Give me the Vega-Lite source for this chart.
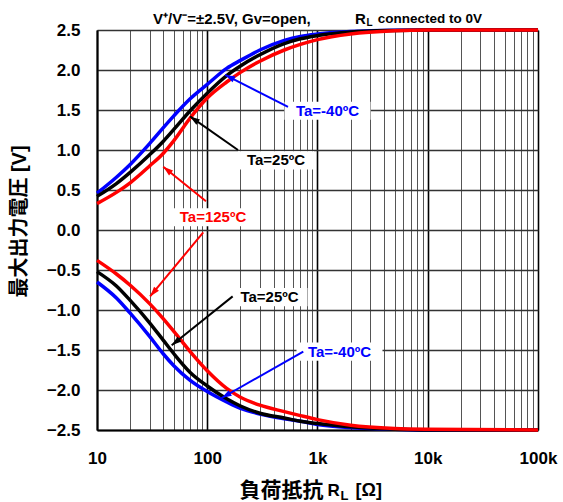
{
  "$schema": "https://vega.github.io/schema/vega-lite/v6.json",
  "width": 441,
  "height": 400,
  "autosize": {"type": "none"},
  "padding": {"left": 97, "top": 30, "right": 25, "bottom": 72},
  "background": "white",
  "config": {
    "font": "Liberation Sans",
    "view": {"stroke": null},
    "axis": {"labelColor": "#000", "titleColor": "#000"}
  },
  "datasets": {
    "curves": [
      {"Ta": "-40", "side": "upper", "R": 10, "V": 0.46},
      {"Ta": "-40", "side": "upper", "R": 15, "V": 0.66},
      {"Ta": "-40", "side": "upper", "R": 20, "V": 0.82},
      {"Ta": "-40", "side": "upper", "R": 30, "V": 1.08},
      {"Ta": "-40", "side": "upper", "R": 40, "V": 1.28},
      {"Ta": "-40", "side": "upper", "R": 50, "V": 1.43},
      {"Ta": "-40", "side": "upper", "R": 70, "V": 1.64},
      {"Ta": "-40", "side": "upper", "R": 100, "V": 1.82},
      {"Ta": "-40", "side": "upper", "R": 150, "V": 2.02},
      {"Ta": "-40", "side": "upper", "R": 200, "V": 2.12},
      {"Ta": "-40", "side": "upper", "R": 300, "V": 2.25},
      {"Ta": "-40", "side": "upper", "R": 500, "V": 2.37},
      {"Ta": "-40", "side": "upper", "R": 700, "V": 2.42},
      {"Ta": "-40", "side": "upper", "R": 1000, "V": 2.45},
      {"Ta": "-40", "side": "upper", "R": 2000, "V": 2.48},
      {"Ta": "-40", "side": "upper", "R": 5000, "V": 2.497},
      {"Ta": "-40", "side": "upper", "R": 10000, "V": 2.5},
      {"Ta": "-40", "side": "upper", "R": 100000, "V": 2.5},
      {"Ta": "-40", "side": "lower", "R": 10, "V": -0.65},
      {"Ta": "-40", "side": "lower", "R": 15, "V": -0.85},
      {"Ta": "-40", "side": "lower", "R": 20, "V": -1.04},
      {"Ta": "-40", "side": "lower", "R": 30, "V": -1.33},
      {"Ta": "-40", "side": "lower", "R": 40, "V": -1.55},
      {"Ta": "-40", "side": "lower", "R": 50, "V": -1.7},
      {"Ta": "-40", "side": "lower", "R": 70, "V": -1.88},
      {"Ta": "-40", "side": "lower", "R": 100, "V": -2.02},
      {"Ta": "-40", "side": "lower", "R": 150, "V": -2.15},
      {"Ta": "-40", "side": "lower", "R": 200, "V": -2.23},
      {"Ta": "-40", "side": "lower", "R": 300, "V": -2.3},
      {"Ta": "-40", "side": "lower", "R": 500, "V": -2.36},
      {"Ta": "-40", "side": "lower", "R": 700, "V": -2.39},
      {"Ta": "-40", "side": "lower", "R": 1000, "V": -2.43},
      {"Ta": "-40", "side": "lower", "R": 2000, "V": -2.47},
      {"Ta": "-40", "side": "lower", "R": 5000, "V": -2.49},
      {"Ta": "-40", "side": "lower", "R": 10000, "V": -2.5},
      {"Ta": "-40", "side": "lower", "R": 100000, "V": -2.5},
      {"Ta": "25", "side": "upper", "R": 10, "V": 0.42},
      {"Ta": "25", "side": "upper", "R": 15, "V": 0.58},
      {"Ta": "25", "side": "upper", "R": 20, "V": 0.72},
      {"Ta": "25", "side": "upper", "R": 30, "V": 0.94},
      {"Ta": "25", "side": "upper", "R": 40, "V": 1.11},
      {"Ta": "25", "side": "upper", "R": 50, "V": 1.26},
      {"Ta": "25", "side": "upper", "R": 70, "V": 1.49},
      {"Ta": "25", "side": "upper", "R": 100, "V": 1.71},
      {"Ta": "25", "side": "upper", "R": 150, "V": 1.93},
      {"Ta": "25", "side": "upper", "R": 200, "V": 2.05},
      {"Ta": "25", "side": "upper", "R": 300, "V": 2.19},
      {"Ta": "25", "side": "upper", "R": 500, "V": 2.33},
      {"Ta": "25", "side": "upper", "R": 700, "V": 2.39},
      {"Ta": "25", "side": "upper", "R": 1000, "V": 2.43},
      {"Ta": "25", "side": "upper", "R": 2000, "V": 2.475},
      {"Ta": "25", "side": "upper", "R": 5000, "V": 2.495},
      {"Ta": "25", "side": "upper", "R": 10000, "V": 2.5},
      {"Ta": "25", "side": "upper", "R": 100000, "V": 2.5},
      {"Ta": "25", "side": "lower", "R": 10, "V": -0.52},
      {"Ta": "25", "side": "lower", "R": 15, "V": -0.7},
      {"Ta": "25", "side": "lower", "R": 20, "V": -0.88},
      {"Ta": "25", "side": "lower", "R": 30, "V": -1.16},
      {"Ta": "25", "side": "lower", "R": 40, "V": -1.38},
      {"Ta": "25", "side": "lower", "R": 50, "V": -1.55},
      {"Ta": "25", "side": "lower", "R": 70, "V": -1.78},
      {"Ta": "25", "side": "lower", "R": 100, "V": -1.95},
      {"Ta": "25", "side": "lower", "R": 150, "V": -2.11},
      {"Ta": "25", "side": "lower", "R": 200, "V": -2.2},
      {"Ta": "25", "side": "lower", "R": 300, "V": -2.29},
      {"Ta": "25", "side": "lower", "R": 500, "V": -2.35},
      {"Ta": "25", "side": "lower", "R": 700, "V": -2.39},
      {"Ta": "25", "side": "lower", "R": 1000, "V": -2.42},
      {"Ta": "25", "side": "lower", "R": 2000, "V": -2.46},
      {"Ta": "25", "side": "lower", "R": 5000, "V": -2.49},
      {"Ta": "25", "side": "lower", "R": 10000, "V": -2.5},
      {"Ta": "25", "side": "lower", "R": 100000, "V": -2.5},
      {"Ta": "125", "side": "upper", "R": 10, "V": 0.33},
      {"Ta": "125", "side": "upper", "R": 15, "V": 0.47},
      {"Ta": "125", "side": "upper", "R": 20, "V": 0.59},
      {"Ta": "125", "side": "upper", "R": 30, "V": 0.8},
      {"Ta": "125", "side": "upper", "R": 40, "V": 0.96},
      {"Ta": "125", "side": "upper", "R": 50, "V": 1.12},
      {"Ta": "125", "side": "upper", "R": 70, "V": 1.4},
      {"Ta": "125", "side": "upper", "R": 100, "V": 1.65},
      {"Ta": "125", "side": "upper", "R": 150, "V": 1.85},
      {"Ta": "125", "side": "upper", "R": 200, "V": 1.97},
      {"Ta": "125", "side": "upper", "R": 300, "V": 2.11},
      {"Ta": "125", "side": "upper", "R": 500, "V": 2.25},
      {"Ta": "125", "side": "upper", "R": 700, "V": 2.32},
      {"Ta": "125", "side": "upper", "R": 1000, "V": 2.38},
      {"Ta": "125", "side": "upper", "R": 2000, "V": 2.45},
      {"Ta": "125", "side": "upper", "R": 5000, "V": 2.49},
      {"Ta": "125", "side": "upper", "R": 10000, "V": 2.5},
      {"Ta": "125", "side": "upper", "R": 100000, "V": 2.5},
      {"Ta": "125", "side": "lower", "R": 10, "V": -0.38},
      {"Ta": "125", "side": "lower", "R": 15, "V": -0.55},
      {"Ta": "125", "side": "lower", "R": 20, "V": -0.69},
      {"Ta": "125", "side": "lower", "R": 30, "V": -0.92},
      {"Ta": "125", "side": "lower", "R": 40, "V": -1.11},
      {"Ta": "125", "side": "lower", "R": 50, "V": -1.27},
      {"Ta": "125", "side": "lower", "R": 70, "V": -1.52},
      {"Ta": "125", "side": "lower", "R": 100, "V": -1.76},
      {"Ta": "125", "side": "lower", "R": 150, "V": -1.98},
      {"Ta": "125", "side": "lower", "R": 200, "V": -2.09},
      {"Ta": "125", "side": "lower", "R": 300, "V": -2.19},
      {"Ta": "125", "side": "lower", "R": 500, "V": -2.27},
      {"Ta": "125", "side": "lower", "R": 700, "V": -2.32},
      {"Ta": "125", "side": "lower", "R": 1000, "V": -2.37},
      {"Ta": "125", "side": "lower", "R": 2000, "V": -2.44},
      {"Ta": "125", "side": "lower", "R": 5000, "V": -2.48},
      {"Ta": "125", "side": "lower", "R": 10000, "V": -2.49},
      {"Ta": "125", "side": "lower", "R": 100000, "V": -2.5}
    ],
    "labels": [
      {"label": "Ta=-40ºC", "Ta": "-40", "R": 1232, "V": 1.49},
      {"label": "Ta=25ºC", "Ta": "25", "R": 420, "V": 0.87},
      {"label": "Ta=125ºC", "Ta": "125", "R": 112.8, "V": 0.16},
      {"label": "Ta=25ºC", "Ta": "25", "R": 367, "V": -0.84},
      {"label": "Ta=-40ºC", "Ta": "-40", "R": 1583, "V": -1.52}
    ],
    "arrows": [
      {"id": "a1", "Ta": "-40", "R": 540, "V": 1.54, "R2": 145, "V2": 1.94},
      {"id": "a2", "Ta": "25", "R": 190, "V": 1.0, "R2": 69.7, "V2": 1.42},
      {"id": "a3", "Ta": "125", "R": 97.4, "V": 0.36, "R2": 39.9, "V2": 0.79},
      {"id": "a4", "Ta": "125", "R": 92, "V": -0.03, "R2": 30.3, "V2": -0.83},
      {"id": "a5", "Ta": "25", "R": 170, "V": -0.83, "R2": 47.6, "V2": -1.44},
      {"id": "a6", "Ta": "-40", "R": 743, "V": -1.52, "R2": 135, "V2": -2.1}
    ]
  },
  "layer": [
    {
      "data": {"name": "curves"},
      "mark": {"type": "line", "strokeWidth": 3.5, "interpolate": "monotone"},
      "encoding": {
        "x": {
          "field": "R", "type": "quantitative", "title": null,
          "scale": {"type": "log", "domain": [10, 100000], "nice": false},
          "axis": {
            "values": [10, 20, 30, 40, 50, 60, 70, 80, 90, 100, 200, 300, 400, 500, 600, 700, 800, 900, 1000, 2000, 3000, 4000, 5000, 6000, 7000, 8000, 9000, 10000, 20000, 30000, 40000, 50000, 60000, 70000, 80000, 90000, 100000],
            "tickCount": 100,
            "labelExpr": "indexof([10,100,1000,10000,100000], datum.value) >= 0 ? (datum.value >= 1000 ? (datum.value / 1000) + 'k' : datum.value + '') : ''",
            "grid": true,
            "gridColor": {"condition": {"test": "indexof([10,100,1000,10000,100000], datum.value) >= 0", "value": "#000000"}, "value": "#555555"},
            "gridWidth": {"condition": {"test": "indexof([10,100,1000,10000,100000], datum.value) >= 0", "value": 1.6}, "value": 1},
            "ticks": false,
            "domainColor": "#000000",
            "domainWidth": 2,
            "labelFontSize": 17,
            "labelFontWeight": "bold",
            "labelPadding": 20,
            "labelOverlap": false,
            "labelFlush": false,
            "labelBound": false
          }
        },
        "y": {
          "field": "V", "type": "quantitative", "title": "最大出力電圧 [V]",
          "scale": {"domain": [-2.5, 2.5], "nice": false, "zero": false},
          "axis": {
            "values": [-2.5, -2, -1.5, -1, -0.5, 0, 0.5, 1, 1.5, 2, 2.5],
            "tickCount": 20,
            "format": ".1f",
            "grid": true,
            "gridColor": "#333333",
            "gridWidth": 1.5,
            "ticks": false,
            "domainColor": "#000000",
            "domainWidth": 2,
            "labelFontSize": 17,
            "labelFontWeight": "bold",
            "labelPadding": 17,
            "labelOverlap": false,
            "labelFlush": false,
            "labelBound": false,
            "titleFont": "Liberation Sans, Noto Sans CJK JP",
            "titleFontSize": 20,
            "titleFontWeight": "bold",
            "titleX": -78,
            "titleY": 191,
            "titleAngle": 270,
            "titleAlign": "center",
            "titleBaseline": "middle"
          }
        },
        "color": {
          "field": "Ta", "type": "nominal", "legend": null,
          "scale": {"domain": ["-40", "25", "125"], "range": ["#0000FF", "#000000", "#FF0000"]}
        },
        "detail": {"field": "side"}
      }
    },
    {
      "data": {"name": "labels"},
      "transform": [{"filter": "datum.Ta != '25'"}],
      "mark": {"type": "point", "filled": true, "fill": "#FFFFFF", "opacity": 1, "strokeWidth": 0, "size": 7396, "shape": "M-1,-0.21L1,-0.21L1,0.21L-1,0.21Z"},
      "encoding": {
        "x": {"field": "R", "type": "quantitative", "title": null},
        "y": {"field": "V", "type": "quantitative", "title": "最大出力電圧 [V]"}
      }
    },
    {
      "data": {"name": "labels"},
      "transform": [{"filter": "datum.Ta == '25'"}],
      "mark": {"type": "point", "filled": true, "fill": "#FFFFFF", "opacity": 1, "strokeWidth": 0, "size": 5776, "shape": "M-1,-0.24L1,-0.24L1,0.24L-1,0.24Z"},
      "encoding": {
        "x": {"field": "R", "type": "quantitative", "title": null},
        "y": {"field": "V", "type": "quantitative", "title": "最大出力電圧 [V]"}
      }
    },
    {
      "data": {"name": "arrows"},
      "mark": {"type": "rule", "strokeWidth": 2},
      "encoding": {
        "x": {"field": "R", "type": "quantitative", "title": null},
        "y": {"field": "V", "type": "quantitative", "title": "最大出力電圧 [V]"},
        "x2": {"field": "R2"},
        "y2": {"field": "V2"},
        "color": {"field": "Ta", "type": "nominal", "legend": null}
      }
    },
    {
      "data": {"name": "arrows"},
      "mark": {"type": "point", "filled": true, "opacity": 1, "strokeWidth": 0, "size": 64, "shape": "M0,0L-0.8,2.5L0.8,2.5Z"},
      "encoding": {
        "x": {"field": "R2", "type": "quantitative", "title": null},
        "y": {"field": "V2", "type": "quantitative", "title": "最大出力電圧 [V]"},
        "color": {"field": "Ta", "type": "nominal", "legend": null},
        "angle": {
          "field": "id", "type": "nominal", "legend": null,
          "scale": {"type": "ordinal", "domain": ["a1", "a2", "a3", "a4", "a5", "a6"], "range": [296.7, 304.8, 308.8, 220.1, 231.6, 240.3]}
        }
      }
    },
    {
      "data": {"name": "labels"},
      "mark": {"type": "text", "fontSize": 15, "fontWeight": "bold", "align": "center", "baseline": "middle"},
      "encoding": {
        "x": {"field": "R", "type": "quantitative", "title": null},
        "y": {"field": "V", "type": "quantitative", "title": "最大出力電圧 [V]"},
        "text": {"field": "label"},
        "color": {"field": "Ta", "type": "nominal", "legend": null}
      }
    },
    {
      "data": {"values": [{}]},
      "layer": [
        {"mark": {"type": "text", "text": "V⁺/V⁻=±2.5V, Gv=open,", "fontSize": 15, "fontWeight": "bold", "align": "left", "dx": -164.5, "dy": -11, "color": "#000"}},
        {"mark": {"type": "text", "text": "R", "fontSize": 15, "fontWeight": "bold", "align": "left", "dx": 37.5, "dy": -11, "color": "#000"}},
        {"mark": {"type": "text", "text": "L", "fontSize": 10, "fontWeight": "bold", "align": "left", "dx": 49, "dy": -7, "color": "#000"}},
        {"mark": {"type": "text", "text": "connected to 0V", "fontSize": 13.5, "fontWeight": "bold", "align": "right", "dx": 164.5, "dy": -11, "color": "#000"}}
      ],
      "encoding": {
        "x": {"datum": 1000, "type": "quantitative", "title": null},
        "y": {"datum": 2.5, "type": "quantitative", "title": "最大出力電圧 [V]"}
      }
    },
    {
      "data": {"values": [{}]},
      "layer": [
        {"mark": {"type": "text", "text": "負荷抵抗", "font": "Noto Sans CJK JP", "fontSize": 21, "fontWeight": "bold", "align": "left", "dx": -78, "dy": 61, "color": "#000"}},
        {"mark": {"type": "text", "text": "R", "fontSize": 17, "fontWeight": "bold", "align": "left", "dx": 10, "dy": 61, "color": "#000"}},
        {"mark": {"type": "text", "text": "L", "fontSize": 13, "fontWeight": "bold", "align": "left", "dx": 23, "dy": 66, "color": "#000"}},
        {"mark": {"type": "text", "text": "[Ω]", "fontSize": 18, "fontWeight": "bold", "align": "left", "dx": 38, "dy": 61, "color": "#000"}}
      ],
      "encoding": {
        "x": {"datum": 1000, "type": "quantitative", "title": null},
        "y": {"datum": -2.5, "type": "quantitative", "title": "最大出力電圧 [V]"}
      }
    }
  ]
}
